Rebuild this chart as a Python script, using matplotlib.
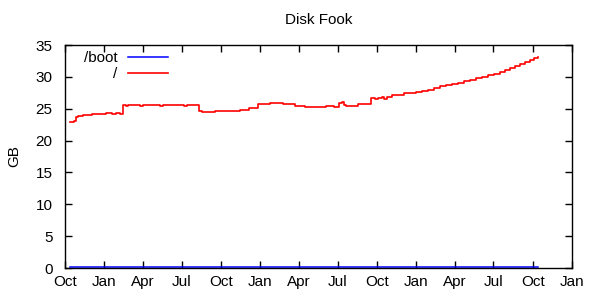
import pandas as pd
import matplotlib
matplotlib.use("Agg")
import matplotlib.pyplot as plt
import matplotlib.dates as mdates

plt.rcParams["font.family"] = ["Liberation Sans", "DejaVu Sans"]

# disk usage of "/" in GB (step changes)
root_dates = [
    "2008-10-13", "2008-10-22", "2008-10-27", "2008-10-31", "2008-11-12",
    "2008-12-03", "2008-12-22", "2009-01-05", "2009-01-19", "2009-01-28",
    "2009-02-07", "2009-02-14", "2009-02-21", "2009-02-25", "2009-03-26",
    "2009-04-02", "2009-05-11", "2009-05-18", "2009-07-07", "2009-07-14",
    "2009-08-11", "2009-08-18", "2009-09-17", "2009-10-18", "2009-11-15",
    "2009-12-06", "2009-12-27", "2010-01-24", "2010-02-23", "2010-03-23",
    "2010-04-16", "2010-05-21", "2010-06-04", "2010-06-23", "2010-07-04",
    "2010-07-11", "2010-07-16", "2010-07-21", "2010-08-18", "2010-09-03",
    "2010-09-17", "2010-09-27", "2010-10-04", "2010-10-13", "2010-10-18",
    "2010-10-25", "2010-11-06", "2010-11-20", "2010-12-04", "2010-12-18",
    "2011-01-01", "2011-01-15", "2011-01-29", "2011-02-12", "2011-02-26",
    "2011-03-12", "2011-03-26", "2011-04-09", "2011-04-23", "2011-05-07",
    "2011-05-21", "2011-06-04", "2011-06-18", "2011-07-02", "2011-07-16",
    "2011-07-28", "2011-08-09", "2011-08-20", "2011-09-01", "2011-09-13",
    "2011-09-25", "2011-10-04", "2011-10-13",
]
root_gb = [
    22.9, 23.0, 23.7, 23.9, 24.0,
    24.1, 24.2, 24.3, 24.2, 24.4,
    24.2, 25.6, 25.5, 25.6, 25.5,
    25.6, 25.5, 25.6, 25.5, 25.6,
    24.6, 24.5, 24.6, 24.7, 24.8,
    25.1, 25.8, 25.9, 25.8, 25.4,
    25.3, 25.3, 25.4, 25.3, 25.9,
    26.1, 25.6, 25.4, 25.7, 25.8,
    26.7, 26.5, 26.7, 26.9, 26.6,
    26.9, 27.1, 27.2, 27.4, 27.5,
    27.7, 27.8, 28.0, 28.2, 28.5,
    28.7, 28.9, 29.1, 29.3, 29.5,
    29.8, 30.0, 30.3, 30.5, 30.8,
    31.1, 31.4, 31.7, 32.0, 32.3,
    32.6, 32.9, 33.1,
]

# /boot stays almost empty the whole time
boot_dates = ["2008-10-13", "2009-10-01", "2010-10-01", "2011-10-13"]
boot_gb = [0.15, 0.15, 0.15, 0.15]

x_start = "2008-10-01"
x_end = "2012-01-01"
y_ticks = [0, 5, 10, 15, 20, 25, 30, 35]

fig = plt.figure(figsize=(6, 3), dpi=100)
ax = fig.add_axes([65 / 600, 32 / 300, 507 / 600, 223 / 300])

ax.plot(pd.to_datetime(boot_dates), boot_gb, color="#0000ff", lw=1.1,
        drawstyle="steps-post", label="/boot")
ax.plot(pd.to_datetime(root_dates), root_gb, color="#ff0000", lw=1.2,
        drawstyle="steps-post", label="/")

ax.set_xlim(pd.Timestamp(x_start), pd.Timestamp(x_end))
ax.set_ylim(0, 35)
ax.set_yticks(y_ticks)
ax.xaxis.set_major_locator(mdates.MonthLocator(bymonth=[1, 4, 7, 10]))
ax.xaxis.set_major_formatter(mdates.DateFormatter("%b"))

ax.tick_params(direction="in", length=5, width=1, top=True, right=True,
               labelsize=11, colors="black")
ax.tick_params(axis="y", pad=9)
ax.tick_params(axis="x", pad=5)
for s in ax.spines.values():
    s.set_linewidth(1)
    s.set_color("black")

ax.set_ylabel("GB", fontsize=11, labelpad=10)
ax.set_title("Disk Fook", fontsize=11, pad=15)

ax.legend(loc="upper left", frameon=False, markerfirst=False, fontsize=11,
          handlelength=2.6, handletextpad=0.7, labelspacing=0.15,
          borderaxespad=0.0, bbox_to_anchor=(0.025, 1.0))

fig.savefig("out.png", dpi=100)
